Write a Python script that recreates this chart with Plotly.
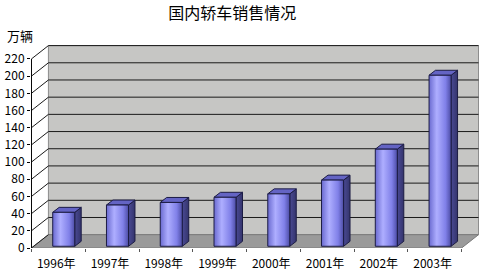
import plotly.graph_objects as go

# ---- data ----
years = ["1996年", "1997年", "1998年", "1999年", "2000年", "2001年", "2002年", "2003年"]
sales = [39.5, 48, 51, 57, 61, 77, 113, 199]
y_ticks = list(range(0, 221, 20))
title_text = "国内轿车销售情况"
unit_text = "万辆"

# ---- pseudo-3D geometry (styling) ----
DX, DY = 0.315, 15.5      # wall depth in axis units
BX, BY = 0.10, 2.0        # bar front-face offset into depth
BDX, BDY = 0.12, 5.8      # bar depth
HW = 0.205                # half bar width
YMAX = y_ticks[-1]
N = len(years)
FONT = "Noto Sans CJK SC"

fig = go.Figure()
shapes = []

# back wall
shapes.append(dict(type="rect", xref="x", yref="y", x0=-0.5 + DX, x1=N - 0.5 + DX,
                   y0=DY, y1=YMAX + DY, fillcolor="#c6c6c4",
                   line=dict(color="#8c8c8c", width=1), layer="below"))
# floor
shapes.append(dict(type="path", xref="x", yref="y",
                   path=f"M {-0.5},0 L {N-0.5},0 L {N-0.5+DX},{DY} L {-0.5+DX},{DY} Z",
                   fillcolor="#9a9a9a", line=dict(color="#7a7a7a", width=1), layer="below"))
# gridlines: back wall + side wall diagonals
for v in y_ticks[1:]:
    shapes.append(dict(type="line", xref="x", yref="y", x0=-0.5 + DX, x1=N - 0.5 + DX,
                       y0=v + DY, y1=v + DY, line=dict(color="#1a1a1a", width=1), layer="below"))
for v in y_ticks:
    shapes.append(dict(type="line", xref="x", yref="y", x0=-0.5, x1=-0.5 + DX,
                       y0=v, y1=v + DY, line=dict(color="#1a1a1a", width=1), layer="below"))
# y axis line (front)
shapes.append(dict(type="line", xref="x", yref="y", x0=-0.5, x1=-0.5, y0=0, y1=YMAX,
                   line=dict(color="#000000", width=1), layer="below"))

# bars
edge = dict(color="#1c1c44", width=1)
for i, v in enumerate(sales):
    xl = i - HW + BX
    xr = i + HW + BX
    yb = BY
    yt = v + BY
    # side face
    fig.add_trace(go.Scatter(
        x=[xr, xr + BDX, xr + BDX, xr, xr], y=[yb, yb + BDY, yt + BDY, yt, yb],
        fill="toself", mode="lines", line=edge,
        fillgradient=dict(type="horizontal",
                          colorscale=[[0, "#4a4a94"], [1, "#34346c"]]),
        hoverinfo="skip", showlegend=False))
    # top face
    fig.add_trace(go.Scatter(
        x=[xl, xl + BDX, xr + BDX, xr, xl], y=[yt, yt + BDY, yt + BDY, yt, yt],
        fill="toself", mode="lines", line=edge, fillcolor="#6464c4",
        hoverinfo="skip", showlegend=False))
    # front face
    fig.add_trace(go.Scatter(
        x=[xl, xr, xr, xl, xl], y=[yb, yb, yt, yt, yb],
        fill="toself", mode="lines", line=edge,
        fillgradient=dict(type="horizontal",
                          colorscale=[[0, "#6a6ad0"], [0.35, "#aeaeff"],
                                      [0.75, "#8080e8"], [1, "#4c4ca4"]]),
        hoverinfo="skip", showlegend=False))

fig.update_layout(
    width=484, height=276,
    margin=dict(l=29, r=5, t=45, b=26, pad=0),
    paper_bgcolor="white", plot_bgcolor="white",
    shapes=shapes,
    font=dict(family=FONT, size=12, color="#000000"),
    title=dict(text=title_text, x=0.48, xanchor="center", y=1 - 13 / 276, yanchor="middle",
               font=dict(family=FONT, size=16, color="#000000")),
    xaxis=dict(range=[-0.509, N - 0.5 + 0.324], tickvals=[i - 0.04 for i in range(N)],
               ticktext=years, ticks="", showgrid=False, zeroline=False, showline=False,
               ticklabelstandoff=7, fixedrange=True,
               minor=dict(tickvals=[i + 0.5 for i in range(-1, N)], ticks="outside",
                          ticklen=3, tickcolor="#555555", showgrid=False),
               tickfont=dict(family=FONT, size=12)),
    yaxis=dict(range=[0, 236.2], tickvals=y_ticks, ticks="outside", ticklen=3,
               tickcolor="#000000", showgrid=False, zeroline=False, showline=False,
               fixedrange=True, tickfont=dict(family=FONT, size=12)),
    annotations=[dict(text=unit_text, xref="paper", yref="paper",
                      x=(3 - 29) / 450, y=(250 - 35) / 205, xanchor="left", yanchor="middle",
                      showarrow=False, font=dict(family=FONT, size=13, color="#000000"))],
)

fig.write_html("out.html")
